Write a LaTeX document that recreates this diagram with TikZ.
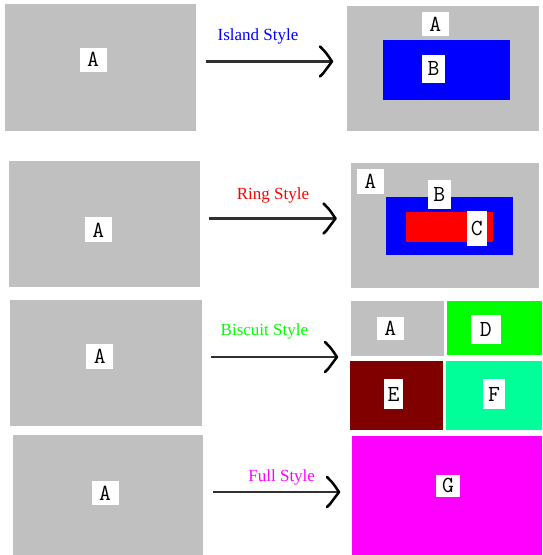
\documentclass[tikz,border=0pt]{standalone}
\usepackage{fontspec}
\setmainfont{Liberation Serif}
\definecolor{areagray}{HTML}{C0C0C0}
\definecolor{areablue}{HTML}{0000FF}
\definecolor{areared}{HTML}{FF0000}
\definecolor{areagreen}{HTML}{00FF00}
\definecolor{areamaroon}{HTML}{800000}
\definecolor{areaspring}{HTML}{00FF99}
\definecolor{areamagenta}{HTML}{FF00FF}
\definecolor{arrowdark}{HTML}{303030}
\tikzset{
  area/.style={rectangle, draw=none, fill=#1, inner sep=0pt},
  tag/.style={rectangle, fill=white, draw=none, inner sep=0pt,
    font=\ttfamily\fontsize{23}{23}\selectfont, text=black},
  stylename/.style={font=\fontsize{17}{17}\selectfont, inner sep=0pt},
  conn/.style={draw=arrowdark, line width=2.2pt},
  headstroke/.style={draw=black, line width=2.5pt, line cap=round, line join=round},
}
\newcommand{\chevronhead}[1]{%
  \draw[headstroke] ([shift={(-11,-15)}]#1) .. controls ([shift={(-5,-9)}]#1) .. ([shift={(1,0)}]#1)
    -- ([shift={(-8,12)}]#1) -- ([shift={(-11,15)}]#1);}
\begin{document}
\begin{tikzpicture}[x=1pt,y=-1pt]
\useasboundingbox (0,0) rectangle (542,555);
% ---------- Row 1: Island ----------
\node[area=areagray, minimum width=191pt, minimum height=127pt] (L1) at (100.5,67.5) {};
\node[tag, minimum width=27pt, minimum height=24pt] (L1a) at (93,59.8) {A};
\node[area=areagray, minimum width=191.6pt, minimum height=125.2pt] (R1) at (443.2,68.8) {};
\node[tag, minimum width=27pt, minimum height=24pt] (R1a) at (435.2,24.2) {A};
\node[area=areablue, minimum width=127.3pt, minimum height=59.8pt] (R1b) at (446.2,70.3) {};
\node[tag, minimum width=23.5pt, minimum height=28.4pt] (R1bt) at (433.5,68.8) {B};
\coordinate (s1) at (205.7,61.5);
\coordinate (e1) at (331,61.5);
\draw[conn] (s1) -- (e1);
\chevronhead{e1}
\node[stylename, text=areablue] (t1) at (258,36.3) {Island Style};
% ---------- Row 2: Ring ----------
\node[area=areagray, minimum width=191.9pt, minimum height=125.8pt] (L2) at (104.5,224.3) {};
\node[tag, minimum width=27pt, minimum height=25pt] (L2a) at (98.2,229.9) {A};
\node[area=areagray, minimum width=188.4pt, minimum height=125.2pt] (R2) at (445,225.7) {};
\node[tag, minimum width=27pt, minimum height=25pt] (R2a) at (370.2,181.5) {A};
\node[area=areablue, minimum width=127.2pt, minimum height=58pt] (R2b) at (449.7,226.4) {};
\node[tag, minimum width=23.5pt, minimum height=28.4pt] (R2bt) at (439.4,194.6) {B};
\node[area=areared, minimum width=87.1pt, minimum height=30.1pt] (R2c) at (449.1,227.3) {};
\node[tag, minimum width=20.1pt, minimum height=35.2pt] (R2ct) at (476.7,228.1) {C};
\coordinate (s2) at (209,218.5);
\coordinate (e2) at (334.5,218.5);
\draw[conn] (s2) -- (e2);
\chevronhead{e2}
\node[stylename, text=areared] (t2) at (273,195) {Ring Style};
% ---------- Row 3: Biscuit ----------
\node[area=areagray, minimum width=191.1pt, minimum height=126.1pt] (L3) at (106,362.8) {};
\node[tag, minimum width=27pt, minimum height=25pt] (L3a) at (99.9,356.1) {A};
\node[area=areagray, minimum width=92.7pt, minimum height=54.7pt] (TA) at (397.2,328.4) {};
\node[tag, minimum width=27pt, minimum height=23.5pt] (TAt) at (390.3,328.4) {A};
\node[area=areagreen, minimum width=95pt, minimum height=54pt] (TD) at (494.5,328) {};
\node[tag, minimum width=29.7pt, minimum height=29.4pt] (TDt) at (485.7,329.6) {D};
\node[area=areamaroon, minimum width=92.7pt, minimum height=69.1pt] (TE) at (396.2,395.5) {};
\node[tag, minimum width=18.3pt, minimum height=30.1pt] (TEt) at (393.6,394.3) {E};
\node[area=areaspring, minimum width=96.1pt, minimum height=69.1pt] (TF) at (494,395.5) {};
\node[tag, minimum width=21.5pt, minimum height=30.1pt] (TFt) at (494,394.3) {F};
\coordinate (s3) at (210.9,357);
\coordinate (e3) at (336,357);
\draw[conn] (s3) -- (e3);
\chevronhead{e3}
\node[stylename, text=areagreen] (t3) at (264.4,331.5) {Biscuit Style};
% ---------- Row 4: Full ----------
\node[area=areagray, minimum width=190.5pt, minimum height=120.3pt] (L4) at (108,494.9) {};
\node[tag, minimum width=27pt, minimum height=24.2pt] (L4a) at (105.1,493.1) {A};
\node[area=areamagenta, minimum width=190.1pt, minimum height=119pt] (RG) at (447,495.5) {};
\node[tag, minimum width=23.5pt, minimum height=21.5pt] (RGt) at (448,485.9) {G};
\coordinate (s4) at (212.6,492);
\coordinate (e4) at (338,492);
\draw[conn] (s4) -- (e4);
\chevronhead{e4}
\node[stylename, text=areamagenta] (t4) at (281.7,477.5) {Full Style};
\end{tikzpicture}
\end{document}
